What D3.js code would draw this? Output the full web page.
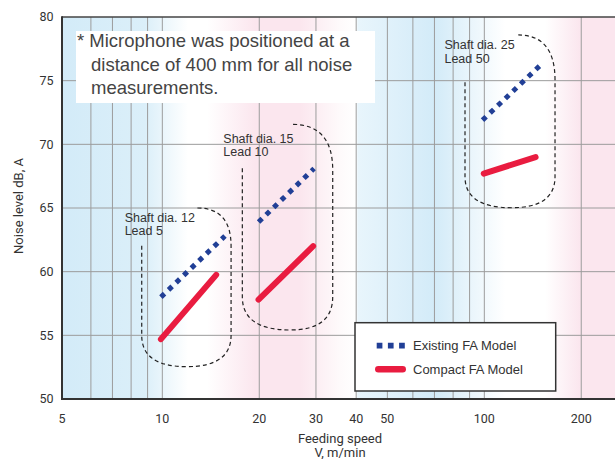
<!DOCTYPE html>
<html><head><meta charset="utf-8">
<script src="https://cdn.jsdelivr.net/npm/d3@7/dist/d3.min.js"></script>
<style>body{margin:0;background:#fff}svg{display:block}</style>
</head><body>
<svg id="c" width="615" height="459"></svg>
<script>
// ---- data ----
const xTicks = [5, 10, 20, 30, 40, 50, 100, 200];
const xGrid = [6, 7, 8, 9, 10, 20, 30, 40, 50, 60, 70, 80, 90, 100, 200];
const yTicks = [50, 55, 60, 65, 70, 75, 80];
const shaftLabels = ["Shaft dia. 12", "Shaft dia. 15", "Shaft dia. 25"];
const leadLabels = ["Lead 5", "Lead 10", "Lead 50"];
// Existing FA Model: [start, end] speed (m/min) and noise (dB)
const existingV = [[9.9, 15.65], [19.9, 29.6], [98.7, 148.4]];
const existingDb = [[58.0, 62.8], [63.9, 68.1], [71.9, 76.15]];
// Compact FA Model
const compactV = [[9.9, 14.7], [19.9, 29.4], [99.6, 144.3]];
const compactDb = [[54.7, 59.75], [57.8, 62.0], [67.7, 69.0]];
const seriesNames = ["Existing FA Model", "Compact FA Model"];
const noteLines = ["* Microphone was positioned at a", "distance of 400 mm for all noise", "measurements."];

// ---- layout ----
const L = 62, R = 615, T = 17, B = 399;
const svg = d3.select("#c");
const x = d3.scaleLog().domain([4.88, 254.6]).range([L, R]);
const y = d3.scaleLinear().domain([50, 80]).range([B, T]);
const fontAxis = "Roboto, 'Liberation Sans', Arial, sans-serif";
const fontTxt = "'Liberation Sans', Arial, sans-serif";

// background gradient
const defs = svg.append("defs");
const g = defs.append("linearGradient").attr("id", "bg")
  .attr("gradientUnits", "userSpaceOnUse").attr("x1", L).attr("x2", R).attr("y1", 0).attr("y2", 0);
const BLUE = "#d3ebf8", PINK = "#fbe6ee", WHITE = "#ffffff";
[[62, BLUE], [145, "#dbeff9"], [188, WHITE], [207, WHITE], [255, PINK], [300, PINK], [340, "#fefafb"],
 [356, WHITE], [358, "#e8f5fc"], [435, BLUE], [505, WHITE], [545, WHITE], [580, PINK], [615, PINK]]
  .forEach(([px, c]) => g.append("stop").attr("offset", (px - L) / (R - L)).attr("stop-color", c));
svg.append("rect").attr("x", L).attr("y", T).attr("width", R - L).attr("height", B - T).attr("fill", "url(#bg)");

// grid
svg.append("g").selectAll("line").data(xGrid).join("line")
  .attr("x1", d => x(d)).attr("x2", d => x(d)).attr("y1", T).attr("y2", B)
  .attr("stroke", "#9c9c9c").attr("stroke-width", 1);
svg.append("g").selectAll("line").data(yTicks.slice(1, -1)).join("line")
  .attr("x1", L).attr("x2", R).attr("y1", d => y(d)).attr("y2", d => y(d))
  .attr("stroke", "#9c9c9c").attr("stroke-width", 1);

// note box
svg.append("rect").attr("x", 76).attr("y", 31).attr("width", 299).attr("height", 72).attr("fill", "#fff");
svg.append("g").selectAll("text").data(noteLines).join("text")
  .attr("x", (d, i) => i === 0 ? 77 : 91).attr("y", (d, i) => 46.7 + i * 23.8)
  .attr("font-family", fontTxt).attr("font-size", 18.5).attr("fill", "#444").text(d => d);

// axes frame
svg.append("line").attr("x1", L).attr("x2", R).attr("y1", T).attr("y2", T).attr("stroke", "#444").attr("stroke-width", 1.5);
svg.append("line").attr("x1", L).attr("x2", L).attr("y1", T - 0.75).attr("y2", B + 1).attr("stroke", "#333").attr("stroke-width", 2);
svg.append("line").attr("x1", L - 1).attr("x2", R).attr("y1", B).attr("y2", B).attr("stroke", "#333").attr("stroke-width", 2);

// tick labels
svg.append("g").selectAll("text").data(yTicks).join("text")
  .attr("x", 53.5).attr("y", d => y(d)).attr("dy", "0.35em").attr("text-anchor", "end")
  .attr("font-family", fontAxis).attr("font-size", 12.5).attr("fill", "#333").text(d => d);
svg.append("g").selectAll("text").data(xTicks).join("text")
  .attr("x", d => d === 5 ? L : x(d)).attr("y", 418.5).attr("dy", "0.35em").attr("text-anchor", "middle")
  .attr("font-family", fontAxis).attr("font-size", 12.5).attr("fill", "#333").text(d => d);

// axis titles
svg.append("text").attr("x", 340).attr("y", 438.5).attr("dy", "0.35em").attr("text-anchor", "middle")
  .attr("font-family", fontAxis).attr("font-size", 13).attr("fill", "#333").text("Feeding speed");
svg.append("text").attr("x", 340).attr("y", 452).attr("dy", "0.35em").attr("text-anchor", "middle")
  .attr("font-family", fontAxis).attr("font-size", 13).attr("fill", "#333").text("V, m/min");
svg.append("text").attr("transform", "translate(18,206) rotate(-90)").attr("dy", "0.35em").attr("text-anchor", "middle")
  .attr("font-family", fontAxis).attr("font-size", 13).attr("fill", "#333").text("Noise level dB, A");

// dashed group outlines (data space): M, L, Q commands
const outlines = [
  [["M", 8.63, 62.04], ["L", 8.63, 55.0], ["Q", 8.63, 52.54, 11.9, 52.54], ["Q", 16.35, 52.54, 16.35, 55.0], ["L", 16.35, 62.0], ["Q", 16.35, 65.0, 12.85, 65.0]],
  [["M", 17.72, 68.12], ["L", 17.72, 58.03], ["Q", 17.72, 55.42, 24.93, 55.42], ["Q", 33.82, 55.42, 33.82, 58.03], ["L", 33.82, 67.98], ["Q", 33.82, 71.57, 25.33, 71.57]],
  [["M", 87.1, 74.87], ["L", 87.1, 67.46], ["Q", 87.1, 65.02, 121.6, 65.02], ["Q", 165.8, 65.02, 165.8, 67.46], ["L", 165.8, 75.05], ["Q", 165.8, 78.59, 127.5, 78.59]]
];
outlines.forEach(cmds => {
  const p = d3.path();
  cmds.forEach(c => {
    if (c[0] === "M") p.moveTo(x(c[1]), y(c[2]));
    else if (c[0] === "L") p.lineTo(x(c[1]), y(c[2]));
    else p.quadraticCurveTo(x(c[1]), y(c[2]), x(c[3]), y(c[4]));
  });
  svg.append("path").attr("d", p.toString()).attr("fill", "none").attr("stroke", "#222")
    .attr("stroke-width", 1.2).attr("stroke-dasharray", "4,3");
});

// group labels
const labelAt = [[7.64, 63.92], [15.47, 70.13], [75.2, 77.46]];
shaftLabels.forEach((s, i) => {
  const t = svg.append("text").attr("font-family", fontTxt).attr("font-size", 12.5).attr("fill", "#333");
  t.append("tspan").attr("x", x(labelAt[i][0])).attr("y", y(labelAt[i][1])).text(s);
  t.append("tspan").attr("x", x(labelAt[i][0])).attr("dy", 13.3).text(leadLabels[i]);
});

// series lines
const BLUEL = "#213f96", RED = "#e91c40";
const line = d3.line().x(d => x(d[0])).y(d => y(d[1]));
existingV.forEach((v, i) => {
  svg.append("path").attr("d", line(v.map((vv, j) => [vv, existingDb[i][j]])))
    .attr("fill", "none").attr("stroke", BLUEL).attr("stroke-width", 5).attr("stroke-dasharray", "5,5.5");
});
compactV.forEach((v, i) => {
  svg.append("path").attr("d", line(v.map((vv, j) => [vv, compactDb[i][j]])))
    .attr("fill", "none").attr("stroke", RED).attr("stroke-width", 6).attr("stroke-linecap", "round");
});

// legend
const lg = svg.append("g");
lg.append("rect").attr("x", 355).attr("y", 322.7).attr("width", 200.7).attr("height", 68.3)
  .attr("fill", "#fff").attr("stroke", "#333").attr("stroke-width", 1.5);
lg.append("line").attr("x1", 376.7).attr("x2", 405.5).attr("y1", 345.7).attr("y2", 345.7)
  .attr("stroke", BLUEL).attr("stroke-width", 5.7).attr("stroke-dasharray", "5.7,5.5");
lg.append("line").attr("x1", 378.3).attr("x2", 402.7).attr("y1", 369.3).attr("y2", 369.3)
  .attr("stroke", RED).attr("stroke-width", 6.5).attr("stroke-linecap", "round");
lg.selectAll("text.l").data(seriesNames).join("text").attr("class", "l")
  .attr("x", 413).attr("y", (d, i) => 345.7 + i * 23.6).attr("dy", "0.35em")
  .attr("font-family", fontTxt).attr("font-size", 13).attr("fill", "#333").text(d => d);
</script>
</body></html>
